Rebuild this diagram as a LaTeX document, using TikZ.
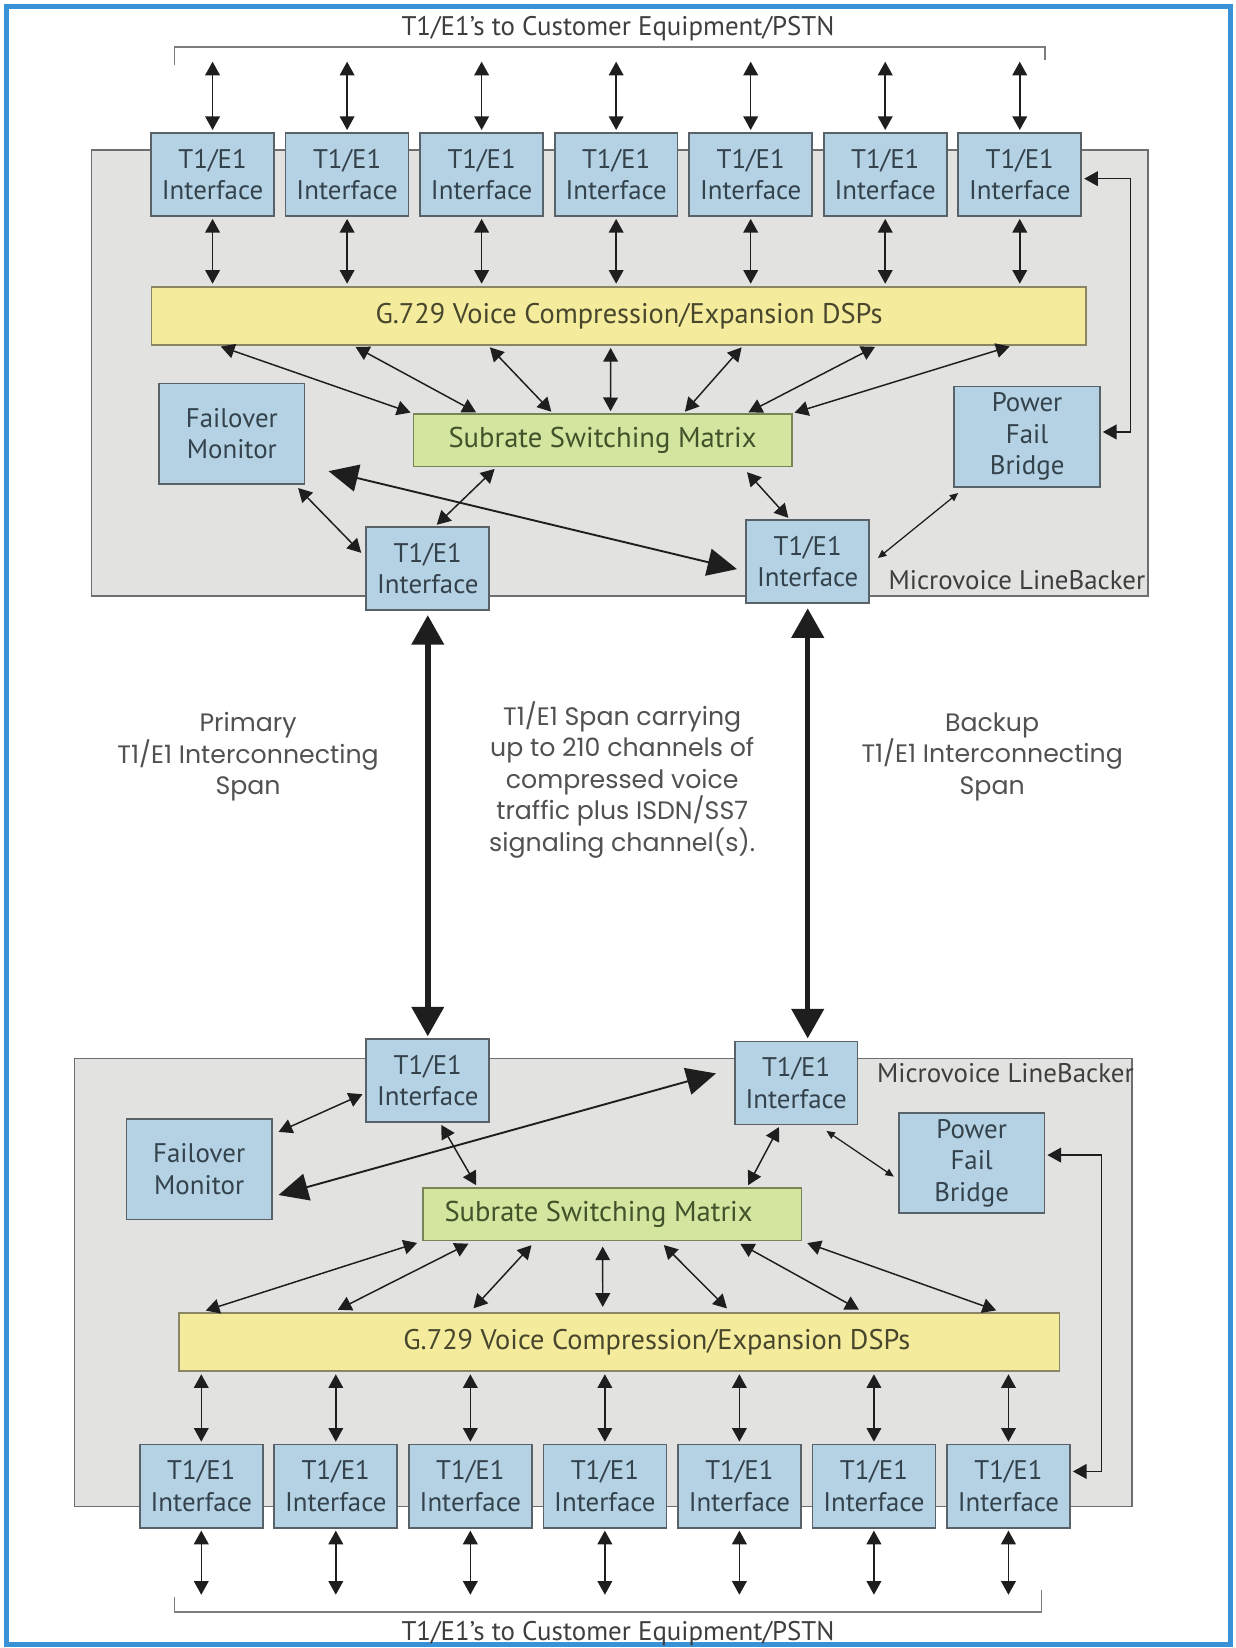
\documentclass[tikz,border=0pt]{standalone}
\usepackage{fontspec}
\setmainfont{PT Sans}
\newfontfamily\spanfont{Poppins}
\usetikzlibrary{arrows.meta,calc}

\definecolor{framecol}{RGB}{58,146,214}
\definecolor{panelfill}{RGB}{226,226,224}
\definecolor{panelline}{RGB}{110,110,110}
\definecolor{ifacefill}{RGB}{180,210,227}
\definecolor{ifaceline}{RGB}{88,98,104}
\definecolor{boxtext}{RGB}{52,66,76}
\definecolor{dspfill}{RGB}{244,236,156}
\definecolor{dspline}{RGB}{138,134,100}
\definecolor{dsptext}{RGB}{72,70,44}
\definecolor{mtxfill}{RGB}{212,229,160}
\definecolor{mtxline}{RGB}{118,132,88}
\definecolor{mtxtext}{RGB}{66,82,42}
\definecolor{arrowcol}{RGB}{30,30,30}
\definecolor{labeltext}{RGB}{62,62,62}

\begin{document}
\begin{tikzpicture}[x=0.5pt, y=-0.5pt,
    iface/.style={draw=ifaceline, fill=ifacefill, line width=0.8pt, minimum width=58.5pt,
      minimum height=39.5pt, inner sep=0pt, align=center, text=boxtext,
      font=\fontsize{12.8}{15}\selectfont},
    sidebox/.style={iface, minimum width=69.25pt, minimum height=47.75pt},
    dspbox/.style={draw=dspline, fill=dspfill, line width=0.8pt, minimum height=27.75pt,
      inner sep=0pt, text=dsptext, font=\fontsize{13.5}{15}\selectfont},
    mtxbox/.style={draw=mtxline, fill=mtxfill, line width=0.8pt, minimum width=180pt,
      minimum height=25pt, inner sep=0pt, text=mtxtext, font=\fontsize{13.6}{15}\selectfont},
    panel/.style={draw=panelline, fill=panelfill, line width=0.8pt},
    bracket/.style={draw=panelline!90, line width=0.8pt},
    lbl/.style={inner sep=0pt, text=labeltext, font=\fontsize{12.8}{15}\selectfont},
    spantext/.style={inner sep=0pt, align=center, text=labeltext!90,
      font=\spanfont\fontsize{12}{15}\selectfont},
    link/.style={draw=arrowcol, line width=0.7pt, shorten <=1pt, shorten >=1pt,
      {Triangle[length=6.5pt,width=7pt]}-{Triangle[length=6.5pt,width=7pt]}},
    thinlink/.style={draw=arrowcol, line width=0.6pt,
      {Triangle[length=4pt,width=3.5pt]}-{Triangle[length=4pt,width=3.5pt]}},
    bigdiag/.style={draw=arrowcol, line width=0.9pt,
      {Triangle[length=14pt,width=13pt]}-{Triangle[length=14pt,width=13pt]}},
    bigspan/.style={draw=arrowcol, line width=2.6pt, shorten <=2pt, shorten >=1pt,
      {Triangle[length=14pt,width=15pt]}-{Triangle[length=14pt,width=15pt]}}
  ]
  \useasboundingbox (0,0) rectangle (1176,1568);
  \fill[white] (0,0) rectangle (1176,1568);
  \draw[framecol, line width=2.3pt] (6,6) rectangle (1171,1565);

  % upper LineBacker
  \path[panel] (87,143) rectangle (1092,567);
  \draw[bracket] (166,62) -- (166,45) -- (994,45) -- (994,57);
  \node[lbl] (custA) at (588,27) {T1/E1’s to Customer Equipment/PSTN};

  \foreach \i in {1,...,7}
    \node[iface] (ti\i) at ({202.25+128*(\i-1)},166) {T1/E1\\Interface};

  \node[dspbox, minimum width=444.5pt] (dspA) at (588.5,300.5)
    {\hspace*{10pt}G.729 Voice Compression/Expansion DSPs};
  \node[mtxbox] (mtxA) at (573.3,419) {Subrate Switching Matrix};
  \node[sidebox] (fmA) at (220.6,412.75) {Failover\\Monitor};
  \node[sidebox] (pfA) at (977.25,415.5) {Power\\Fail\\Bridge};
  \node[iface] (liA) at (407,541) {T1/E1\\Interface};
  \node[iface] (riA) at (768.5,534.5) {T1/E1\\Interface};
  \node[lbl, anchor=east] (lbA) at (1090,552) {Microvoice LineBacker};

  \foreach \i in {1,...,7} {
    \draw[link] ([yshift=34.5pt]ti\i.north) -- (ti\i.north);
    \draw[link] (ti\i.south) -- (ti\i.south |- dspA.north);
  }
  \foreach \s/\e in {0.073/0.0, 0.217/0.172, 0.361/0.369, 0.4916/0.521,
                     0.633/0.713, 0.776/0.879, 0.920/1.0}
    \draw[link] ($(dspA.south west)!\s!(dspA.south east)$)
      -- ($(mtxA.north west)!\e!(mtxA.north east)$);

  \draw[link] ([yshift=-2pt]ti7.east) -- ++(46.25,0) |- ([yshift=2.25pt]pfA.east);
  \draw[link] ($(mtxA.south west)!0.22!(mtxA.south east)$)
    -- ($(liA.north west)!0.56!(liA.north east)$);
  \draw[link, shorten <=3pt] ($(mtxA.south west)!0.869!(mtxA.south east)$)
    -- ($(riA.north west)!0.356!(riA.north east)$);
  \draw[link, shorten <=0pt, shorten >=0pt] ($(fmA.south east)+(-7,3)$)
    -- ($(liA.west)+(-4,-15)$);
  \draw[bigdiag] ($(fmA.south east)+(22,-13)$) -- ($(riA.west)+(-8,7)$);
  \draw[thinlink] ($(pfA.south west)+(4.5,5)$) -- ($(riA.east)+(7.5,-3.5)$);

  % interconnecting spans
  \node[spantext] (prim) at (236,720) {Primary\\T1/E1 Interconnecting\\Span};
  \node[spantext] (carry) at (592,742)
    {T1/E1 Span carrying\\up to 210 channels of\\compressed voice\\traffic plus ISDN/SS7\\signaling channel(s).};
  \node[spantext] (back) at (944,720) {Backup\\T1/E1 Interconnecting\\Span};

  % lower LineBacker
  \path[panel] (71,1007) rectangle (1077,1433.5);
  \draw[bracket] (166,1519) -- (166,1533.5) -- (991,1533.5) -- (991,1513);
  \node[lbl] (custB) at (588,1554) {T1/E1’s to Customer Equipment/PSTN};

  \node[iface] (liB) at (407,1028.3) {T1/E1\\Interface};
  \node[iface] (riB) at (757.5,1030.3) {T1/E1\\Interface};
  \node[sidebox] (fmB) at (189.5,1112.5) {Failover\\Monitor};
  \node[sidebox] (pfB) at (924.5,1106.5) {Power\\Fail\\Bridge};
  \node[mtxbox] (mtxB) at (582.5,1155.25) {Subrate Switching Matrix\hspace*{13pt}};
  \node[dspbox, minimum width=419pt] (dspB) at (589,1277)
    {\hspace*{36pt}G.729 Voice Compression/Expansion DSPs};
  \node[lbl, anchor=east] (lbB) at (1079,1021) {Microvoice LineBacker};

  \foreach \i in {1,...,7}
    \node[iface] (bi\i) at ({191.5+128*(\i-1)},1414) {T1/E1\\Interface};

  \foreach \i in {1,...,7} {
    \draw[link] (bi\i.north |- dspB.south) -- (bi\i.north);
    \draw[link] (bi\i.south) -- ([yshift=-32.5pt]bi\i.south);
  }
  \foreach \s/\e in {0.0/0.026, 0.134/0.176, 0.297/0.331, 0.475/0.4815,
                     0.626/0.6265, 0.825/0.777, 1.0/0.933}
    \draw[link, shorten <=2.5pt, shorten >=2.5pt] ($(mtxB.south west)!\s!(mtxB.south east)$)
      -- ($(dspB.north west)!\e!(dspB.north east)$);

  \draw[link] ([yshift=3.75pt]pfB.east) -- ++(53.6,0) |- ([yshift=7pt]bi7.east);
  \draw[link, shorten <=0pt] ($(fmB.north east)+(5.5,13)$) -- ($(liB.west)+(-1,12)$);
  \draw[bigdiag] ($(fmB.east)+(5.5,24.5)$) -- ($(riB.west)+(-17,-9)$);
  \draw[link] ($(liB.south west)!0.60!(liB.south east)$)
    -- ($(mtxB.north west)!0.145!(mtxB.north east)$);
  \draw[link] ($(riB.south west)!0.37!(riB.south east)$)
    -- ($(mtxB.north west)!0.855!(mtxB.north east)$);
  \draw[thinlink] ($(riB.south east)+(-30.5,5.4)$) -- ($(pfB.west)+(-4,13)$);

  \draw[bigspan] (liA.south) -- (liB.north);
  \draw[bigspan] (riA.south) -- (riA.south |- riB.north);
\end{tikzpicture}
\end{document}
